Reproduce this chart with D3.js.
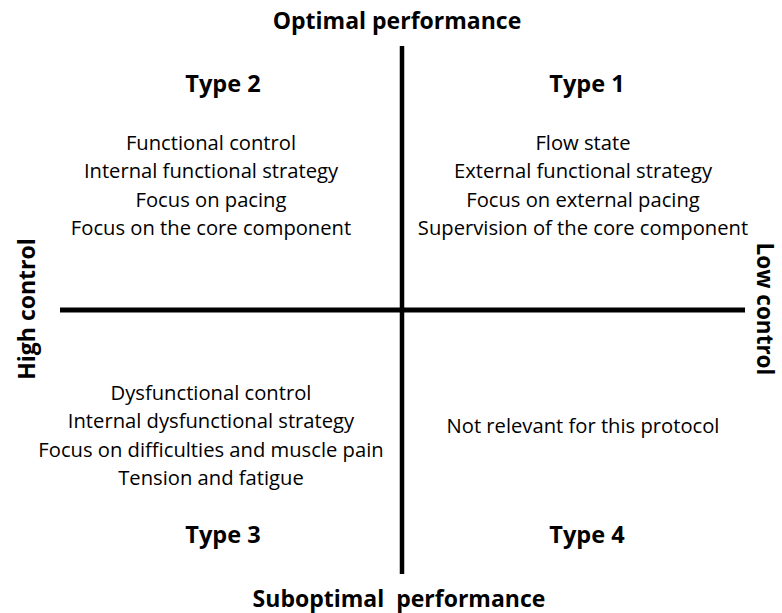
<!DOCTYPE html>
<html><head><meta charset="utf-8">
<script src="https://cdn.jsdelivr.net/npm/d3@7"></script>
<style>body{margin:0;background:#fff}svg{display:block}text{font-family:"Open Sans",Lato,sans-serif;fill:#000}</style>
</head><body><div id="chart"></div>
<script>
const topTitle = "Optimal performance";
const bottomTitle = "Suboptimal\u00a0\u00a0performance";
const leftTitle = "High control";
const rightTitle = "Low control";
const quadrantNames = ["Type 1", "Type 2", "Type 3", "Type 4"];
const quadrantX = [1, -1, -1, 1];
const quadrantY = [1, 1, -1, -1];
const quadrantLines = [
  ["Flow state", "External functional strategy", "Focus on external pacing", "Supervision of the core component"],
  ["Functional control", "Internal functional strategy", "Focus on pacing", "Focus on the core component"],
  ["Dysfunctional control", "Internal dysfunctional strategy", "Focus on difficulties and muscle pain", "Tension and fatigue"],
  ["Not relevant for this protocol"]
];

const W = 782, H = 613;
const svg = d3.select("#chart").append("svg").attr("width", W).attr("height", H);
// x: -1 (high control) .. 1 (low control); y: -1 (suboptimal) .. 1 (optimal)
const x = d3.scaleLinear().domain([-1, 1]).range([60, 745]);
const y = d3.scaleLinear().domain([-1, 1]).range([574, 46]);
const cy = 310;

svg.append("line").attr("x1", 402).attr("x2", 402).attr("y1", y(1)).attr("y2", y(-1))
  .attr("stroke", "#000").attr("stroke-width", 4.5);
svg.append("line").attr("x1", x(-1)).attr("x2", x(1)).attr("y1", cy).attr("y2", cy)
  .attr("stroke", "#000").attr("stroke-width", 5);

const bold = (sel, size) => sel.attr("font-size", size).attr("font-weight", "bold").attr("text-anchor", "middle");
bold(svg.append("text").attr("x", 397).attr("y", 28.5), 23).text(topTitle);
bold(svg.append("text").attr("x", 399).attr("y", 607), 23).text(bottomTitle);
bold(svg.append("text").attr("transform", "translate(35,309) rotate(-90)"), 23).text(leftTitle);
bold(svg.append("text").attr("transform", "translate(757,309) rotate(90)"), 22.5).text(rightTitle);

const nameX = d => d > 0 ? 587 : 223;
const nameY = d => d > 0 ? 92 : 543;
quadrantNames.forEach((n, i) => {
  bold(svg.append("text").attr("x", nameX(quadrantX[i])).attr("y", nameY(quadrantY[i])), 23.5).text(n);
  const lines = quadrantLines[i];
  const tx = quadrantX[i] > 0 ? 583 : 211;
  let startY = quadrantY[i] > 0 ? 150 : 400;
  if (lines.length === 1) startY = 433;
  lines.forEach((l, j) => {
    svg.append("text").attr("x", tx).attr("y", startY + j * 28.3)
      .attr("text-anchor", "middle").attr("font-size", 20.2).text(l);
  });
});
</script></body></html>
